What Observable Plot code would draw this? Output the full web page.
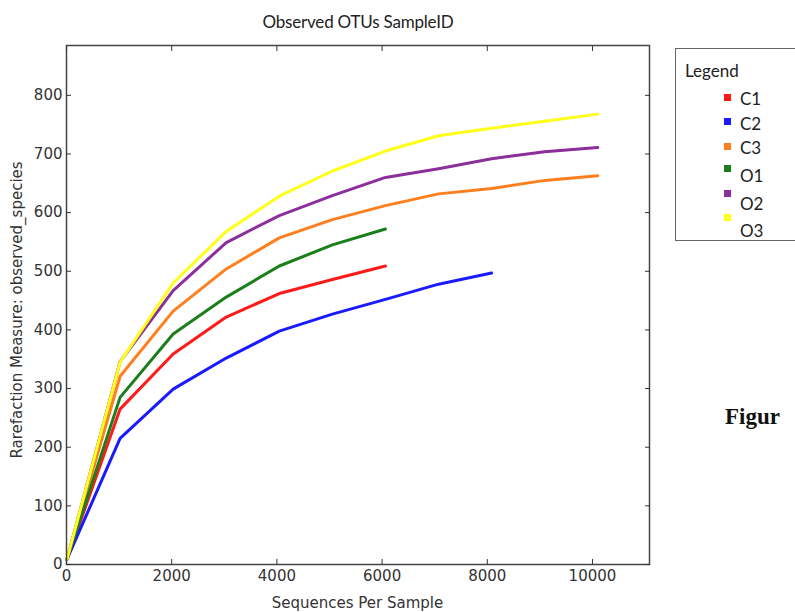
<!DOCTYPE html>
<html><head><meta charset="utf-8">
<script src="https://cdn.jsdelivr.net/npm/d3@7"></script>
<script src="https://cdn.jsdelivr.net/npm/@observablehq/plot@0.6"></script>
<style>
body{margin:0;background:#fff;overflow:hidden}
#wrap{position:relative;width:795px;height:612px;overflow:hidden;background:#fff}
#wrap svg{position:absolute;left:0;top:0}
.t{position:absolute;white-space:nowrap}
#title{left:0;width:716px;top:11px;text-align:center;font:17px Lato,sans-serif;color:#222;letter-spacing:-0.2px}
#xlab{left:66px;width:583px;top:594px;text-align:center;font:15px "DejaVu Sans",sans-serif;color:#333}
#ylab{left:17px;top:310px;transform:translate(-50%,-50%) rotate(-90deg);font:15px "DejaVu Sans",sans-serif;color:#333}
#legend{position:absolute;left:675px;top:48px;width:140px;height:191px;border:1px solid #666;background:#fff}
#legend .head{position:absolute;left:9px;top:11px;font:17px Lato,sans-serif;color:#222}
#legend .sw{position:absolute;width:7px;height:7px}
#legend .lb{position:absolute;font:17px Lato,sans-serif;color:#222}
#fig{left:725px;top:404px;font:bold 23px "Liberation Serif","Times New Roman",serif;color:#111}
</style></head><body><div id="wrap"></div>
<script>
// Rarefaction depths (sequences per sample)
const depths = [10, 1019, 2028, 3037, 4046, 5055, 6064, 7073, 8082, 9091, 10100];
// Observed species per sample
const C1 = [9, 265, 359, 422, 462, 486, 509];
const C2 = [9, 215, 299, 352, 398, 427, 452, 478, 497];
const C3 = [9, 321, 432, 504, 557, 588, 612, 632, 641, 655, 663];
const O1 = [9, 285, 393, 456, 509, 545, 572];
const O2 = [9, 346, 467, 549, 595, 629, 660, 675, 692, 704, 711];
const O3 = [9, 345, 480, 568, 628, 671, 705, 731, 744, 756, 768];
const samples = ["C1", "C2", "C3", "O1", "O2", "O3"];
const colors = ["#ff1a1a", "#1a1aff", "#ff7f1e", "#1a7f1a", "#8a2f9c", "#ffff1a"];
const xTicks = [0, 2000, 4000, 6000, 8000, 10000];
const yTicks = [0, 100, 200, 300, 400, 500, 600, 700, 800];

const series = {C1, C2, C3, O1, O2, O3};
const rows = samples.flatMap(s => series[s].map((v, i) => ({sample: s, depth: depths[i], value: v})));

const chart = Plot.plot({
  width: 795, height: 612,
  marginLeft: 66, marginRight: 146, marginTop: 45, marginBottom: 48,
  style: {fontFamily: "DejaVu Sans", fontSize: "15px", color: "#333", background: "transparent"},
  x: {domain: [0, 11084]},
  y: {domain: [0, 885]},
  color: {domain: samples, range: colors},
  marks: [
    Plot.line(rows, {x: "depth", y: "value", z: "sample", stroke: "sample", strokeWidth: 3}),
    Plot.frame({stroke: "#444", strokeWidth: 1.5}),
    Plot.axisX({ticks: xTicks, tickSize: -5, tickPadding: 11, label: null, tickFormat: d => String(d)}),
    Plot.axisX({anchor: "top", ticks: xTicks, tickSize: -5, label: null, tickFormat: () => ""}),
    Plot.axisY({ticks: yTicks, tickSize: -5, tickPadding: 9, label: null, tickFormat: d => String(d)}),
    Plot.axisY({anchor: "right", ticks: yTicks, tickSize: -5, label: null, tickFormat: () => ""})
  ]
});
const wrap = document.getElementById("wrap");
wrap.appendChild(chart);

function addText(id, cls, txt) {
  const d = document.createElement("div");
  d.id = id; d.className = cls; d.textContent = txt; wrap.appendChild(d); return d;
}
addText("title", "t", "Observed OTUs SampleID");
addText("xlab", "t", "Sequences Per Sample");
addText("ylab", "t", "Rarefaction Measure: observed_species");
addText("fig", "t", "Figur");

const lg = document.createElement("div");
lg.id = "legend";
const head = document.createElement("div");
head.className = "head"; head.textContent = "Legend"; lg.appendChild(head);
const swTops = [45, 69, 94, 116, 141, 165];
const lbTops = [39, 64, 88, 116, 144, 171];
samples.forEach((s, i) => {
  const sw = document.createElement("div");
  sw.className = "sw"; sw.style.left = "48px"; sw.style.top = swTops[i] + "px"; sw.style.background = colors[i];
  lg.appendChild(sw);
  const lb = document.createElement("div");
  lb.className = "lb"; lb.style.left = "64px"; lb.style.top = lbTops[i] + "px"; lb.textContent = s;
  lg.appendChild(lb);
});
wrap.appendChild(lg);
</script></body></html>
